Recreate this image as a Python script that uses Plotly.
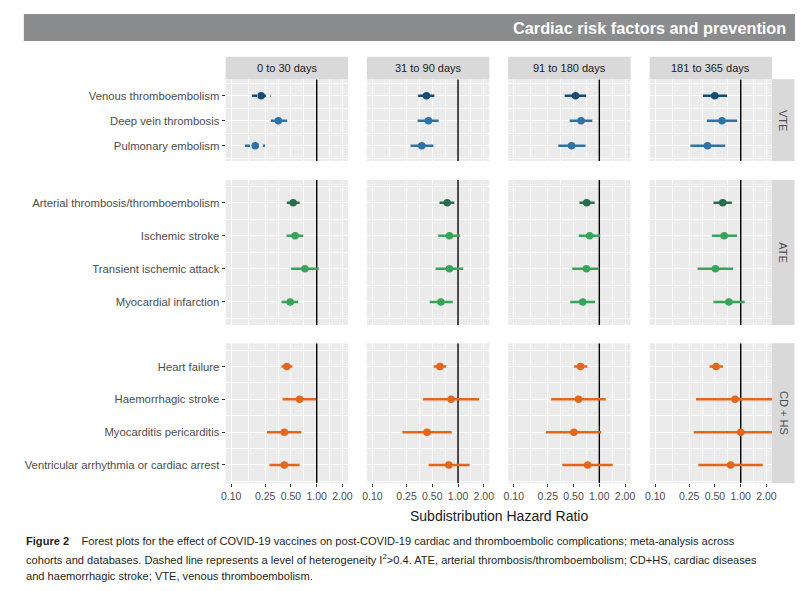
import math
import plotly.graph_objects as go
from plotly.subplots import make_subplots

# ---------------- data ----------------
periods = ["0 to 30 days", "31 to 90 days", "91 to 180 days", "181 to 365 days"]
groups = ["VTE", "ATE", "CD + HS"]

vte_outcomes = ["Venous thromboembolism", "Deep vein thrombosis", "Pulmonary embolism"]
vte_hr = [[0.224, 0.428, 0.527, 0.497],
          [0.356, 0.451, 0.612, 0.604],
          [0.191, 0.377, 0.474, 0.409]]
vte_lo = [[0.175, 0.342, 0.394, 0.362],
          [0.292, 0.337, 0.450, 0.402],
          [0.145, 0.279, 0.332, 0.258]]
vte_hi = [[0.288, 0.529, 0.699, 0.690],
          [0.452, 0.593, 0.828, 0.906],
          [0.249, 0.515, 0.688, 0.659]]
vte_dashed = [[True, False, False, False],
              [False, False, False, False],
              [True, False, False, False]]

ate_outcomes = ["Arterial thrombosis/thromboembolism", "Ischemic stroke",
                "Transient ischemic attack", "Myocardial infarction"]
ate_hr = [[0.530, 0.747, 0.711, 0.615],
          [0.559, 0.794, 0.771, 0.641],
          [0.729, 0.794, 0.706, 0.506],
          [0.490, 0.630, 0.640, 0.727]]
ate_lo = [[0.447, 0.608, 0.586, 0.480],
          [0.444, 0.588, 0.575, 0.459],
          [0.502, 0.547, 0.482, 0.313],
          [0.388, 0.467, 0.457, 0.480]]
ate_hi = [[0.631, 0.906, 0.881, 0.787],
          [0.697, 1.054, 1.024, 0.906],
          [1.057, 1.151, 0.987, 0.815],
          [0.605, 0.867, 0.888, 1.112]]

cdhs_outcomes = ["Heart failure", "Haemorrhagic stroke", "Myocarditis pericarditis",
                 "Ventricular arrhythmia or cardiac arrest"]
cdhs_hr = [[0.447, 0.614, 0.602, 0.515],
           [0.631, 0.830, 0.571, 0.859],
           [0.418, 0.435, 0.504, 1.000],
           [0.418, 0.779, 0.731, 0.761]]
cdhs_lo = [[0.388, 0.519, 0.508, 0.431],
           [0.399, 0.391, 0.274, 0.300],
           [0.263, 0.224, 0.238, 0.282],
           [0.280, 0.454, 0.369, 0.319]]
cdhs_hi = [[0.520, 0.727, 0.725, 0.620],
           [0.984, 1.761, 1.189, 2.500],
           [0.661, 0.844, 1.052, 3.500],
           [0.631, 1.361, 1.432, 1.808]]

x_breaks = [0.10, 0.25, 0.50, 1.00, 2.00]
x_break_labels = ["0.10", "0.25", "0.50", "1.00", "2.00"]

title_text = "Cardiac risk factors and prevention"
axis_title = "Subdistribution Hazard Ratio"
caption_lines = [
    "<b>Figure 2</b>    Forest plots for the effect of COVID-19 vaccines on post-COVID-19 "
    "cardiac and thromboembolic complications; meta-analysis across",
    "cohorts and databases. Dashed line represents a level of heterogeneity "
    "I<sup>2</sup>>0.4. ATE, arterial thrombosis/thromboembolism; CD+HS, cardiac diseases",
    "and haemorrhagic stroke; VTE, venous thromboembolism.",
]

# colours per outcome
vte_colors = ["#134d78", "#2c73a8", "#2c73a8"]
ate_colors = ["#2b6a4c", "#39a35a", "#39a35a", "#39a35a"]
cdhs_colors = ["#e2661c", "#e2661c", "#e2661c", "#e2661c"]

blocks = [
    dict(name=groups[0], outcomes=vte_outcomes, hr=vte_hr, lo=vte_lo, hi=vte_hi,
         dashed=vte_dashed, colors=vte_colors),
    dict(name=groups[1], outcomes=ate_outcomes, hr=ate_hr, lo=ate_lo, hi=ate_hi,
         dashed=None, colors=ate_colors),
    dict(name=groups[2], outcomes=cdhs_outcomes, hr=cdhs_hr, lo=cdhs_lo, hi=cdhs_hi,
         dashed=None, colors=cdhs_colors),
]

# ---------------- layout geometry (screen pixels) ----------------
OFF = 8                     # default page body margin
W, H = 804 - OFF, 591 - OFF  # figure size so that it ends at the window edge
col_left = [223.3, 366.4, 509.5, 652.7]
col_w = 124.0
row_px = [(79.3, 161.0), (180.0, 325.0), (343.3, 483.3)]
y_ranges = [[2.61, -0.66], [3.70, -0.69], [3.56, -0.71]]
x_range = [-1.065, 0.366]


def fx(px):
    return (px - OFF) / W


def fy(py):
    return 1 - (py - OFF) / H


fig = make_subplots(rows=3, cols=4)

text_grey = "#4d4d4d"
base_font = "Liberation Sans, Arial, sans-serif"

minor_x = [math.sqrt(x_breaks[i] * x_breaks[i + 1]) for i in range(len(x_breaks) - 1)]

for r, blk in enumerate(blocks):
    n = len(blk["outcomes"])
    yr = y_ranges[r]
    for c in range(4):
        idx = r * 4 + c + 1
        fig.add_trace(go.Scatter(x=[1, 1], y=yr, mode="lines",
                                 line=dict(color="#000000", width=1.4),
                                 hoverinfo="skip", showlegend=False),
                      row=r + 1, col=c + 1)
        for i in range(n):
            col = blk["colors"][i]
            dash = "solid"
            if blk["dashed"] is not None and blk["dashed"][i][c]:
                dash = "5px,4px"
            fig.add_trace(go.Scatter(x=[blk["lo"][i][c], blk["hi"][i][c]], y=[i, i],
                                     mode="lines", line=dict(color=col, width=2.5, dash=dash),
                                     hoverinfo="skip", showlegend=False),
                          row=r + 1, col=c + 1)
            fig.add_trace(go.Scatter(x=[blk["hr"][i][c]], y=[i], mode="markers",
                                     marker=dict(color=col, size=7.5),
                                     showlegend=False),
                          row=r + 1, col=c + 1)

        xa = "xaxis" if idx == 1 else f"xaxis{idx}"
        ya = "yaxis" if idx == 1 else f"yaxis{idx}"
        fig.layout[xa].update(
            type="log", range=x_range,
            domain=[fx(col_left[c]), fx(col_left[c] + col_w)],
            tickvals=x_breaks, ticktext=x_break_labels,
            showticklabels=(r == 2), ticks="outside" if r == 2 else "",
            ticklen=3, tickcolor="#333333", tickwidth=1,
            tickfont=dict(family=base_font, size=10.5, color=text_grey),
            showgrid=True, gridcolor="#ffffff", gridwidth=1.1,
            minor=dict(tickvals=minor_x, showgrid=True, gridcolor="#ffffff",
                       gridwidth=0.5, ticks=""),
            zeroline=False, showline=False, fixedrange=True,
        )
        fig.layout[ya].update(
            range=yr,
            domain=[fy(row_px[r][1]), fy(row_px[r][0])],
            tickvals=list(range(n)), ticktext=blk["outcomes"],
            showticklabels=(c == 0), ticks="outside" if c == 0 else "",
            ticklen=3, tickcolor="#333333", tickwidth=1,
            tickfont=dict(family=base_font, size=11.3, color=text_grey),
            showgrid=True, gridcolor="#ffffff", gridwidth=1.1,
            minor=dict(tickvals=[k - 0.5 for k in range(n + 1)], showgrid=True,
                       gridcolor="#ffffff", gridwidth=0.5, ticks=""),
            zeroline=False, showline=False, fixedrange=True,
        )

shapes = []
annotations = []

# banner
shapes.append(dict(type="rect", xref="paper", yref="paper",
                   x0=fx(19), x1=fx(800), y0=fy(41), y1=fy(14),
                   fillcolor="#8b8c8e", line=dict(width=0), layer="below"))
annotations.append(dict(text="<b>" + title_text + "</b>",
                        xref="paper", yref="paper", x=fx(793), y=fy(28),
                        xanchor="right", yanchor="middle", showarrow=False,
                        font=dict(family=base_font, size=16.3, color="#ffffff")))

# top strips
for c in range(4):
    shapes.append(dict(type="rect", xref="paper", yref="paper",
                       x0=fx(col_left[c]), x1=fx(col_left[c] + col_w),
                       y0=fy(79.3), y1=fy(56.7),
                       fillcolor="#d9d9d9", line=dict(width=0)))
    annotations.append(dict(text=periods[c], xref="paper", yref="paper",
                            x=fx(col_left[c] + col_w / 2), y=fy(68),
                            xanchor="center", yanchor="middle", showarrow=False,
                            font=dict(family=base_font, size=11, color="#1a1a1a")))

# right strips
for r in range(3):
    shapes.append(dict(type="rect", xref="paper", yref="paper",
                       x0=fx(776.7), x1=fx(799.5),
                       y0=fy(row_px[r][1]), y1=fy(row_px[r][0]),
                       fillcolor="#d9d9d9", line=dict(width=0)))
    annotations.append(dict(text=groups[r], xref="paper", yref="paper",
                            x=fx(788), y=fy((row_px[r][0] + row_px[r][1]) / 2),
                            xanchor="center", yanchor="middle", showarrow=False,
                            textangle=90,
                            font=dict(family=base_font, size=11, color="#4d4d4d")))

# x axis title
annotations.append(dict(text=axis_title, xref="paper", yref="paper",
                        x=fx(500), y=fy(516), xanchor="center", yanchor="middle",
                        showarrow=False,
                        font=dict(family=base_font, size=14, color="#1a1a1a")))

# caption (one annotation per line)
caption_y = [541, 558.5, 576]
for line, yy in zip(caption_lines, caption_y):
    annotations.append(dict(text=line, xref="paper", yref="paper",
                            x=fx(19), y=fy(yy), xanchor="left", yanchor="middle",
                            align="left", showarrow=False,
                            font=dict(family=base_font, size=11.1, color="#231f20")))

fig.update_layout(
    width=W, height=H,
    margin=dict(l=0, r=0, t=0, b=0),
    paper_bgcolor="#ffffff", plot_bgcolor="#ebebeb",
    shapes=shapes, annotations=annotations,
    showlegend=False,
    font=dict(family=base_font),
)

fig.write_html("out.html")
